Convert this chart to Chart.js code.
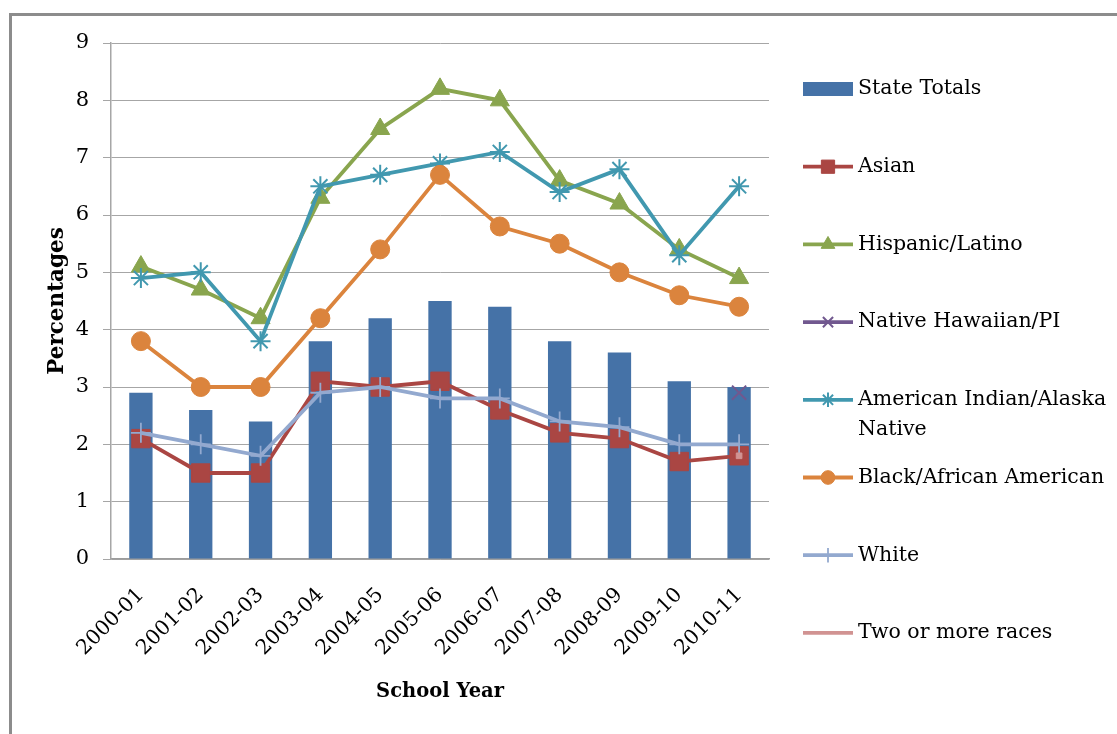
<!DOCTYPE html>
<html>
<head>
<meta charset="utf-8">
<title>Percentages by School Year</title>
<script src="https://cdn.jsdelivr.net/npm/chart.js@4.4.1/dist/chart.umd.min.js"></script>
<style>
  html, body { margin: 0; padding: 0; background: #fff; }
  #wrap { position: relative; width: 1117px; height: 734px; }
</style>
</head>
<body>
<div id="wrap"><canvas id="myChart" width="1117" height="734"></canvas></div>
<script>
// Data
const schoolYears = ['2000-01', '2001-02', '2002-03', '2003-04', '2004-05', '2005-06',
  '2006-07', '2007-08', '2008-09', '2009-10', '2010-11'];
const stateTotals     = [2.9, 2.6, 2.4, 3.8, 4.2, 4.5, 4.4, 3.8, 3.6, 3.1, 3.0];
const asian           = [2.1, 1.5, 1.5, 3.1, 3.0, 3.1, 2.6, 2.2, 2.1, 1.7, 1.8];
const hispanicLatino  = [5.1, 4.7, 4.2, 6.3, 7.5, 8.2, 8.0, 6.6, 6.2, 5.4, 4.9];
const nativeHawaiian  = [null, null, null, null, null, null, null, null, null, null, 2.9];
const americanIndian  = [4.9, 5.0, 3.8, 6.5, 6.7, 6.9, 7.1, 6.4, 6.8, 5.3, 6.5];
const blackAfrican    = [3.8, 3.0, 3.0, 4.2, 5.4, 6.7, 5.8, 5.5, 5.0, 4.6, 4.4];
const white           = [2.2, 2.0, 1.8, 2.9, 3.0, 2.8, 2.8, 2.4, 2.3, 2.0, 2.0];
const twoOrMore       = [null, null, null, null, null, null, null, null, null, null, 1.8];
const yTicks          = [0, 1, 2, 3, 4, 5, 6, 7, 8, 9];

const serif = '"DejaVu Serif", serif';

function lineSeries(label, data, color, style, radius, width) {
  return {
    type: 'line',
    label: label,
    data: data,
    borderColor: color,
    backgroundColor: color,
    borderWidth: 3.8,
    pointStyle: style,
    pointRadius: radius,
    pointBorderWidth: width,
    pointBackgroundColor: color,
    pointBorderColor: color,
    tension: 0,
    spanGaps: false
  };
}

const datasets = [
  {
    type: 'bar',
    label: 'State Totals',
    data: stateTotals,
    backgroundColor: '#4572A7',
    borderWidth: 0,
    barPercentage: 0.39,
    categoryPercentage: 1
  },
  lineSeries('Asian', asian, '#AA4643', 'rect', 13, 1),
  lineSeries('Hispanic/Latino', hispanicLatino, '#89A54E', 'triangle', 11, 1),
  lineSeries('Native Hawaiian/PI', nativeHawaiian, '#71588F', 'crossRot', 10, 2),
  lineSeries('American Indian/Alaska Native', americanIndian, '#4198AF', 'star', 10, 2),
  lineSeries('Black/African American', blackAfrican, '#DB843D', 'circle', 9.5, 1),
  lineSeries('White', white, '#93A9CF', 'cross', 10, 1.8),
  lineSeries('Two or more races', twoOrMore, '#D19392', 'rect', 4, 1)
];
// later series sit on top, bars at the back
datasets.forEach((ds, i) => { ds.order = datasets.length - i; });

// Outer frame and white background
const framePlugin = {
  id: 'frame',
  beforeDraw(chart) {
    const ctx = chart.ctx;
    ctx.save();
    ctx.fillStyle = '#fff';
    ctx.fillRect(0, 0, chart.width, chart.height);
    ctx.strokeStyle = '#8c8c8c';
    ctx.lineWidth = 3;
    ctx.beginPath();
    ctx.moveTo(10.5, chart.height + 5);
    ctx.lineTo(10.5, 14.5);
    ctx.lineTo(chart.width + 5, 14.5);
    ctx.stroke();
    ctx.restore();
  }
};

// Legend on the right, one slot per series
const sideLegend = {
  id: 'sideLegend',
  afterDraw(chart) {
    const ctx = chart.ctx;
    const top = 89, step = 77.7;
    const symX = 803, symW = 50, textX = 858, maxW = 258;
    ctx.save();
    ctx.font = '20.5px ' + serif;
    ctx.textBaseline = 'middle';
    chart.data.datasets.forEach((ds, i) => {
      const y = top + i * step;
      if (ds.type === 'bar') {
        ctx.fillStyle = ds.backgroundColor;
        ctx.fillRect(symX, y - 7, symW, 14);
      } else {
        ctx.strokeStyle = ds.borderColor;
        ctx.lineWidth = 3.8;
        ctx.beginPath();
        ctx.moveTo(symX, y);
        ctx.lineTo(symX + symW, y);
        ctx.stroke();
        if (ds.pointStyle && ds.label !== 'Two or more races') {
          ctx.fillStyle = ds.pointBackgroundColor;
          ctx.strokeStyle = ds.pointBorderColor;
          ctx.lineWidth = ds.pointBorderWidth;
          Chart.helpers.drawPoint(ctx, {
            pointStyle: ds.pointStyle,
            radius: ds.pointRadius * 0.72,
            rotation: 0,
            borderWidth: ds.pointBorderWidth
          }, symX + symW / 2, y);
        }
      }
      // wrap long labels at spaces
      const words = ds.label.split(' ');
      const lines = [];
      let cur = '';
      words.forEach(w => {
        const test = cur ? cur + ' ' + w : w;
        if (cur && ctx.measureText(test).width > maxW) {
          lines.push(cur);
          cur = w;
        } else {
          cur = test;
        }
      });
      lines.push(cur);
      ctx.fillStyle = '#000';
      lines.forEach((ln, k) => ctx.fillText(ln, textX, y + k * 30));
    });
    ctx.restore();
  }
};

const ctx = document.getElementById('myChart').getContext('2d');

new Chart(ctx, {
  data: {
    labels: schoolYears,
    datasets: datasets
  },
  options: {
    responsive: false,
    animation: false,
    layout: {
      padding: { left: 0, top: 43, right: 348, bottom: 0 }
    },
    plugins: {
      legend: { display: false },
      tooltip: { enabled: false }
    },
    scales: {
      x: {
        offset: true,
        grid: { display: false },
        border: { display: true, color: '#9c9c9c', width: 1.5 },
        ticks: {
          color: '#000',
          font: { family: serif, size: 20.5 },
          minRotation: 45,
          maxRotation: 45,
          padding: 16
        },
        title: {
          display: true,
          text: 'School Year',
          color: '#000',
          font: { family: serif, size: 19.5, weight: 'bold' },
          padding: { top: 0, bottom: 30 }
        },
        afterFit: scale => { scale.height = 175; }
      },
      y: {
        min: 0,
        max: 9,
        afterBuildTicks: scale => { scale.ticks = yTicks.map(v => ({ value: v })); },
        grid: { color: '#a6a6a6', lineWidth: 1, tickLength: 8 },
        border: { display: true, color: '#a6a6a6', width: 1.5 },
        ticks: {
          color: '#000',
          font: { family: serif, size: 21 },
          padding: 14
        },
        title: {
          display: true,
          text: 'Percentages',
          color: '#000',
          font: { family: serif, size: 21.5, weight: 'bold' },
          padding: { top: 45, bottom: 0 }
        },
        afterFit: scale => { scale.width = 111; }
      }
    }
  },
  plugins: [framePlugin, sideLegend]
});
</script>
</body>
</html>
